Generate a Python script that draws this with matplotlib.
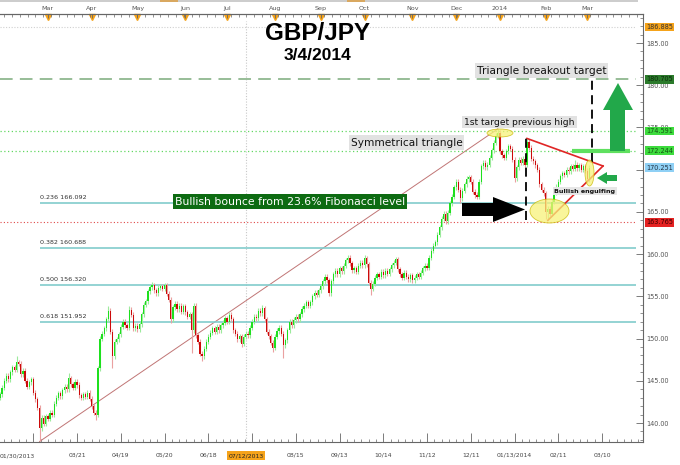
import numpy as np
import pandas as pd
import matplotlib
matplotlib.use("Agg")
import matplotlib.pyplot as plt
from matplotlib.patches import Polygon, Ellipse, Rectangle
from matplotlib.ticker import MultipleLocator
from matplotlib.transforms import blended_transform_factory

W, H = 680, 465

# GBP/JPY daily closes, 29 Jan 2013 - 4 Mar 2014
closes = [
    143.4, 144.2, 145.0, 145.6, 145.2, 146.0, 146.6, 146.3, 147.2, 147.0,
    145.8, 146.2, 145.0, 144.3, 144.8, 145.2, 143.6, 142.8, 141.8, 139.4,
    140.6, 139.9, 140.8, 140.5, 141.2, 141.0, 142.3, 143.0, 143.5, 143.2,
    143.9, 144.3, 144.0, 145.3, 144.6, 144.2, 144.9, 144.5, 143.3, 143.0,
    143.4, 143.1, 143.6, 142.9, 142.0, 141.2, 141.0, 146.5, 150.0, 150.6,
    151.2, 152.3, 153.3, 150.8, 147.9, 149.6, 149.9, 150.5, 151.4, 152.0,
    151.6, 151.3, 153.4, 152.8, 151.2, 151.5, 151.1, 151.7, 152.9, 154.0,
    154.4, 155.6, 156.1, 156.3, 155.7, 155.4, 156.0, 156.2, 155.9, 156.3,
    155.3, 154.6, 152.3, 153.7, 154.1, 153.5, 153.9, 153.2, 153.8, 153.1,
    152.6, 152.9, 151.0, 153.9, 150.4, 149.6, 148.2, 147.9, 148.8, 149.6,
    150.2, 150.7, 151.2, 150.8, 151.4, 151.0, 151.6, 151.9, 152.4, 152.0,
    152.8, 152.3, 151.0, 150.6, 149.9, 150.3, 149.4, 150.2, 150.6, 150.4,
    151.3, 152.0, 152.6, 152.4, 153.3, 153.0, 153.6, 152.3, 150.8, 150.3,
    149.5, 148.9, 150.2, 150.9, 151.3, 150.6, 149.2, 149.8, 151.0, 152.0,
    151.6, 152.2, 152.6, 152.3, 152.9, 153.5, 153.9, 154.3, 153.9, 154.3,
    155.0, 155.4, 155.2, 155.7, 156.2, 156.8, 157.3, 156.9, 155.4, 156.8,
    157.6, 158.0, 157.6, 158.3, 158.0, 158.6, 159.3, 159.6, 158.9, 158.1,
    158.3, 157.9, 158.6, 159.0, 158.7, 159.5, 158.8, 156.6, 155.9, 156.5,
    157.2, 157.6, 157.3, 157.9, 157.5, 158.0, 157.7, 158.2, 158.7, 159.0,
    159.4, 158.2, 157.6, 157.2, 157.8, 157.3, 157.0, 157.5, 156.9, 157.2,
    157.6, 157.3, 157.8, 158.3, 158.6, 158.4, 159.6, 160.4, 161.0, 161.4,
    162.3, 163.2, 164.2, 164.8, 163.9, 164.9, 166.0, 166.8, 167.9, 168.6,
    167.6, 166.6, 167.5, 168.3, 168.9, 169.1, 168.6, 167.4, 167.0, 166.8,
    168.6, 170.4, 170.8, 170.3, 170.6, 171.4, 172.3, 173.2, 174.0, 174.4,
    172.2, 171.7, 171.4, 172.2, 172.8, 172.5, 171.2, 169.0, 170.3, 171.2,
    170.8, 171.3, 170.6, 173.3, 172.6, 171.3, 171.0, 170.5, 170.0, 168.3,
    167.6, 167.2, 165.0, 165.4, 164.8, 166.2, 167.3, 168.0, 168.6, 169.2,
    169.6, 169.4, 170.0, 169.8, 170.4, 170.1, 170.6, 170.2, 170.5, 170.0,
    170.4, 169.9, 168.9, 170.251,
]
first_open = 143.0
wick = 0.3
# longer wicks that stand out on the chart
high_marks = {8: 147.9, 33: 145.9, 52: 153.8, 62: 153.8, 73: 156.7, 79: 156.6,
              93: 154.2, 110: 153.1, 126: 154.0, 147: 154.6, 167: 159.9,
              175: 159.9, 190: 159.7, 239: 174.829, 244: 173.1, 253: 173.7,
              276: 171.1}
low_marks = {19: 137.812, 46: 140.4, 54: 146.5, 82: 151.8, 92: 148.3, 97: 147.3,
             116: 149.0, 131: 148.4, 136: 147.7, 178: 155.2, 221: 166.1,
             247: 168.6, 262: 164.2, 263: 164.0, 282: 168.6}

holidays = ["2013-12-25", "2014-01-01"]
dates = pd.bdate_range("2013-01-29", "2014-03-04")
dates = dates[~dates.isin(pd.to_datetime(holidays))]

fib_ratios = [0.236, 0.382, 0.500, 0.618]
fib_prices = [166.092, 160.688, 156.320, 151.952]
fib_low, fib_high = 137.812, 174.829
fib_low_date, fib_high_date = "2013-02-25", "2013-12-31"

support = 163.765
prev_high = 174.591
tri_level = 172.244
target = 180.705
last_price = 170.251
cross_price = 186.885
cross_date = "2013-07-12"

bottom_labels = ["", "03/21", "04/19", "05/20", "06/18", "", "08/15", "09/13",
                 "10/14", "11/12", "12/11", "01/13/2014", "02/11", "03/10"]
month_labels = ["Mar", "Apr", "May", "Jun", "Jul", "Aug", "Sep", "Oct", "Nov",
                "Dec", "2014", "Feb", "Mar"]

price_boxes = [(cross_price, "#f5a31a", "#333333"),
               (target, "#2b7a2b", "#0c2c0c"),
               (prev_high, "#3ddc3d", "#145214"),
               (tri_level, "#3ddc3d", "#145214"),
               (last_price, "#8fd0f5", "#223344"),
               (support, "#e52222", "#3a0000")]

# ---------------------------------------------------------------
BAR_PX = 2.083
XR = 643 / BAR_PX
YLO, YHI = 137.75, 188.44
PXU = 428 / (YHI - YLO)


def fx(x):
    return x / W


def fy(y):
    return 1 - y / H


def bar_at(x):
    return x / BAR_PX


def price_at(y):
    return YHI - (y - 14) / PXU


def pix(pts):
    return [(fx(a), fy(b)) for a, b in pts]


idx = np.arange(len(closes))
c = np.array(closes)
o = np.r_[first_open, c[:-1]]
hi = np.maximum(o, c) + wick
lo = np.minimum(o, c) - wick
for k, v in high_marks.items():
    hi[k] = v
for k, v in low_marks.items():
    lo[k] = v
up = c >= o

fig = plt.figure(figsize=(W / 100, H / 100), dpi=100)
ax = fig.add_axes([0, fy(442), fx(643), (442 - 14) / H])
ax.set_xlim(0, XR)
ax.set_ylim(YLO, YHI)
xend = bar_at(636)

# scroll strip on top and inner plot frame
fig.add_artist(Rectangle((0, fy(2.5)), fx(638), 2.5 / H, transform=fig.transFigure,
                         fc="#cdcdcd", ec="none"))
for x0, x1 in [(160, 178), (347, 365)]:
    fig.add_artist(Rectangle((fx(x0), fy(2.5)), fx(x1 - x0), 2.5 / H,
                             transform=fig.transFigure, fc="#d9a860", ec="none"))
fig.add_artist(Rectangle((0, fy(441)), fx(636), (441 - 21) / H, transform=fig.transFigure,
                         fill=False, ec="#d4d4d4", lw=0.8, zorder=0))

# crosshair
xc = dates.get_loc(cross_date)
ax.vlines(xc, price_at(441), price_at(21), color="#c8c8c8", lw=0.8, ls=(0, (1, 1.5)))
ax.hlines(cross_price, 0, xend, color="#d0d0d0", lw=0.8, ls=(0, (1, 1.5)))

# fibonacci retracement
i_lo, i_hi = dates.get_loc(fib_low_date), dates.get_loc(fib_high_date)
ax.plot([i_lo, i_hi], [fib_low, fib_high], color="#c07575", lw=0.7, zorder=2)
for r, p in zip(fib_ratios, fib_prices):
    ax.hlines(p, i_lo, xend, color="#82cccc", lw=1.2, zorder=2)
    ax.text(i_lo, p + 0.35, f"{r:.3f} {p:.3f}", fontsize=4.6, color="#333333",
            va="bottom", ha="left")

ax.hlines(support, 0, xend, color="#e04848", lw=0.8, ls=(0, (1, 2)), zorder=2)
ax.hlines([prev_high, tri_level], 0, xend, color="#62d862", lw=0.9, ls=(0, (1, 2)), zorder=2)
ax.hlines(target, 0, xend, color="#8fb88f", lw=1.3, ls=(0, (7, 4)), zorder=2)

# candles
wcol = np.where(up, "#9cea9c", "#eaa0a0")
bcol = np.where(up, "#1ee01e", "#cc0a0a")
ax.vlines(idx, lo, hi, colors=wcol, lw=0.8, zorder=3)
ax.bar(idx, np.maximum(np.abs(c - o), 0.07), bottom=np.minimum(o, c), width=0.6,
       color=bcol, lw=0, zorder=4)

# triangle and breakout guides
apex = (bar_at(603), price_at(166))
ax.plot([253, apex[0]], [high_marks[253], apex[1]], color="#e02525", lw=1.2, zorder=6)
ax.plot([263, apex[0]], [low_marks[263], apex[1]], color="#e02525", lw=1.2, zorder=6)
ax.vlines(bar_at(526), low_marks[263], high_marks[253], color="black", lw=1.3,
          ls=(0, (5, 3)), zorder=6)
ax.vlines(bar_at(592), price_at(162), target, color="black", lw=1.3,
          ls=(0, (5, 3)), zorder=6)
ax.hlines(tri_level, bar_at(572), bar_at(630), color="#5fe05f", lw=3, zorder=5)

# axes styling
ax.spines["left"].set_visible(False)
for s in ["top", "right", "bottom"]:
    ax.spines[s].set_color("#666666")
    ax.spines[s].set_linewidth(0.8)
ax.yaxis.tick_right()
ax.set_yticks(np.arange(140, 186, 5))
ax.set_yticklabels([f"{v:.2f}" for v in np.arange(140, 186, 5)])
ax.yaxis.set_minor_locator(MultipleLocator(1))
ax.tick_params(axis="y", which="major", direction="in", length=5, width=0.6,
               color="#666666", labelcolor="#555555", labelsize=4.7, pad=2.2)
ax.tick_params(axis="y", which="minor", direction="in", length=2.2, width=0.5,
               color="#666666")

i0 = dates.get_loc("2013-03-21")
xt = i0 - 21 + 21 * np.arange(len(bottom_labels))
ax.set_xticks(xt)
ax.set_xticklabels(bottom_labels)
ax.set_xticks(np.arange(xt[0] - 3.5 * 4, XR, 3.5), minor=True)
ax.tick_params(axis="x", which="major", direction="in", length=6.5, width=0.6,
               color="#666666", labelcolor="#444444", labelsize=4.4, pad=7.5)
ax.tick_params(axis="x", which="minor", direction="in", length=2.2, width=0.5,
               color="#666666")

axt = ax.twiny()
axt.set_xlim(0, XR)
for s in ["left", "right", "bottom"]:
    axt.spines[s].set_visible(False)
axt.spines["top"].set_color("#666666")
axt.spines["top"].set_linewidth(0.8)
month_idx = [i for i in range(1, len(dates)) if dates[i].month != dates[i - 1].month]
month_idx = month_idx[-len(month_labels):]
axt.set_xticks(month_idx)
axt.set_xticklabels(month_labels)
axt.set_xticks(np.arange(2, XR, 3.75), minor=True)
axt.tick_params(axis="x", which="major", direction="in", length=3, width=0.6,
                color="#666666", labelcolor="#555555", labelsize=4.6, pad=2.5)
axt.tick_params(axis="x", which="minor", direction="in", length=2.2, width=0.5,
                color="#666666")
tr_top = blended_transform_factory(ax.transData, ax.transAxes)
ax.plot(month_idx, [1 - 2.6 / 428] * len(month_idx), ls="none", marker="v", ms=4.2,
        color="#f5a31a", mec="#f5a31a", transform=tr_top, clip_on=False, zorder=8)

# bottom extra labels
fig.text(fx(0), fy(455.5), "01/30/2013", fontsize=4.4, color="#444444", ha="left", va="center")
ax.text(xc, -13.5 / 428, "07/12/2013", transform=tr_top, fontsize=4.4, color="#222222",
        ha="center", va="center",
        bbox=dict(boxstyle="square,pad=0.25", fc="#f5a31a", ec="none"))

# price boxes on the right axis
tr_right = blended_transform_factory(ax.transAxes, ax.transData)
for p, bg, fg in price_boxes:
    ax.text(1 + 3 / 643, p, f"{p:.3f}", transform=tr_right, fontsize=4.7, color=fg,
            ha="left", va="center", zorder=10,
            bbox=dict(boxstyle="square,pad=0.2", fc=bg, ec="none"))

# title
fig.text(fx(318), fy(33), "GBP/JPY", fontsize=17.5, fontweight="bold",
         family="Liberation Sans", ha="center", va="center")
fig.text(fx(318), fy(55), "3/4/2014", fontsize=12.5, fontweight="bold",
         family="Liberation Sans", ha="center", va="center")

# annotations
gray_box = dict(boxstyle="square,pad=0.2", fc="#e2e2e2", ec="none")
fig.text(fx(541.5), fy(70.5), "Triangle breakout target", fontsize=7.7, color="#111111",
         ha="center", va="center", bbox=gray_box, zorder=9)
fig.text(fx(519.5), fy(122), "1st target previous high", fontsize=6.6, color="#111111",
         ha="center", va="center", bbox=gray_box, zorder=9)
fig.text(fx(406.5), fy(142.5), "Symmetrical triangle", fontsize=7.6, color="#111111",
         ha="center", va="center", bbox=gray_box, zorder=9)
fig.text(fx(290), fy(201.5), "Bullish bounce from 23.6% Fibonacci level", fontsize=7.8,
         color="white", ha="center", va="center", zorder=9,
         bbox=dict(boxstyle="square,pad=0.2", fc="#0d6b12", ec="none"))
fig.text(fx(585), fy(191), "Bullish engulfing", fontsize=4.6, fontweight="bold",
         color="#111111", ha="center", va="center", zorder=9,
         bbox=dict(boxstyle="square,pad=0.2", fc="#e6e6e6", ec="none"))

# ellipses
for (cx, cy, w, h) in [(500, 133, 26, 8), (549.5, 211, 39, 24), (589.5, 173, 9, 26)]:
    fig.add_artist(Ellipse((fx(cx), fy(cy)), w / W, h / H, transform=fig.transFigure,
                           fc="#f7f27a", ec="#c9b800", lw=0.6, alpha=0.75, zorder=7))

# arrows
black_arrow = [(462, 203), (493, 203), (493, 197), (525, 209.5), (493, 222), (493, 216), (462, 216)]
up_arrow = [(610, 151), (610, 110), (603, 110), (618, 83), (633, 110), (625, 110), (625, 151)]
left_arrow = [(617, 175), (607, 175), (607, 172), (597, 178), (607, 184), (607, 181), (617, 181)]
fig.add_artist(Polygon(pix(black_arrow), closed=True, transform=fig.transFigure,
                       fc="black", ec="none", zorder=8))
for pts in [up_arrow, left_arrow]:
    fig.add_artist(Polygon(pix(pts), closed=True, transform=fig.transFigure,
                           fc="#22a84a", ec="none", zorder=8))

fig.savefig("out.png", dpi=100)
